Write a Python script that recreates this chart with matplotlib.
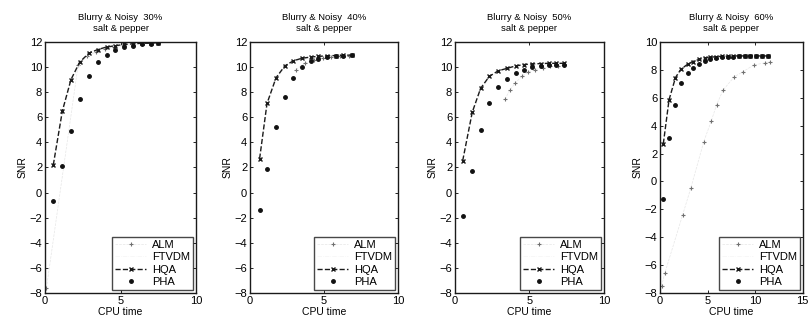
import matplotlib
matplotlib.use("Agg")
import matplotlib.pyplot as plt

plt.rcParams["font.family"] = ["Liberation Sans", "DejaVu Sans"]

# noise levels (panel titles)
noise_levels = ["30%", "40%", "50%", "60%"]
x_limits = [10, 10, 10, 15]
y_limits = [(-8, 12), (-8, 12), (-8, 12), (-8, 10)]

# 30% salt & pepper
t30 = [0.55, 1.15, 1.72, 2.3, 2.9, 3.5, 4.08, 4.65, 5.2, 5.8, 6.4, 7.0, 7.5]
hqa30 = [2.2, 6.5, 9.0, 10.4, 11.1, 11.4, 11.6, 11.7, 11.8, 11.85, 11.9, 11.9, 11.95]
pha30 = [-0.7, 2.1, 4.9, 7.45, 9.3, 10.4, 11.0, 11.4, 11.6, 11.7, 11.8, 11.85, 11.9]
alm_t30 = [0.1, 2.2, 2.8, 3.4, 4.0, 4.6, 5.2, 5.8, 6.4, 7.0]
alm30 = [-7.6, 10.2, 10.9, 11.2, 11.45, 11.6, 11.7, 11.8, 11.85, 11.9]
ftvdm30 = [2.0, 6.3, 8.8, 10.2, 11.0, 11.3, 11.55, 11.65, 11.75, 11.8, 11.85, 11.9, 11.9]

# 40% salt & pepper
t40 = [0.65, 1.15, 1.76, 2.36, 2.93, 3.5, 4.1, 4.6, 5.2, 5.8, 6.3, 6.9]
hqa40 = [2.7, 7.1, 9.15, 10.1, 10.5, 10.7, 10.8, 10.85, 10.9, 10.92, 10.95, 10.95]
pha40 = [-1.4, 1.85, 5.2, 7.65, 9.1, 10.0, 10.45, 10.65, 10.8, 10.85, 10.9, 10.95]
alm_t40 = [3.1, 3.7, 4.3, 4.9, 5.5, 6.1, 6.7]
alm40 = [9.8, 10.3, 10.55, 10.7, 10.8, 10.85, 10.9]
ftvdm40 = [2.5, 6.9, 9.0, 9.95, 10.4, 10.6, 10.75, 10.82, 10.88, 10.9, 10.92, 10.93]

# 50% salt & pepper
t50 = [0.52, 1.16, 1.72, 2.3, 2.9, 3.5, 4.1, 4.66, 5.2, 5.75, 6.3, 6.8, 7.3]
hqa50 = [2.55, 6.4, 8.3, 9.25, 9.7, 9.9, 10.1, 10.2, 10.25, 10.28, 10.3, 10.3, 10.3]
pha50 = [-1.9, 1.75, 5.0, 7.1, 8.45, 9.05, 9.5, 9.8, 10.0, 10.1, 10.15, 10.2, 10.2]
alm_t50 = [3.36, 3.7, 4.03, 4.47, 4.9, 5.4, 5.9, 6.4, 6.9, 7.3]
alm50 = [7.45, 8.2, 8.7, 9.25, 9.6, 9.8, 9.95, 10.05, 10.1, 10.15]
ftvdm50 = [2.4, 6.2, 8.1, 9.1, 9.6, 9.85, 10.05, 10.15, 10.2, 10.25, 10.27, 10.28, 10.3]

# 60% salt & pepper
t60 = [0.35, 0.95, 1.63, 2.2, 2.9, 3.45, 4.1, 4.7, 5.3, 5.9, 6.5, 7.1, 7.7,
       8.3, 8.9, 9.5, 10.1, 10.7, 11.3]
hqa60 = [2.7, 5.85, 7.45, 8.05, 8.4, 8.6, 8.75, 8.85, 8.9, 8.95, 8.97, 8.98, 9.0,
         9.0, 9.0, 9.0, 9.0, 9.0, 9.0]
pha60 = [-1.25, 3.1, 5.5, 7.05, 7.75, 8.15, 8.45, 8.65, 8.8, 8.85, 8.9, 8.92, 8.95,
         8.97, 8.98, 8.98, 9.0, 9.0, 9.0]
alm_t60 = [0.17, 0.5, 2.38, 3.23, 4.6, 5.37, 5.95, 6.63, 7.8, 8.67, 9.86, 11.0, 11.6]
alm60 = [-7.5, -6.6, -2.4, -0.5, 2.85, 4.3, 5.5, 6.55, 7.5, 7.85, 8.35, 8.5, 8.6]
ftvdm60 = [2.5, 5.6, 7.3, 7.95, 8.35, 8.55, 8.7, 8.8, 8.88, 8.92, 8.95, 8.97, 8.98,
           8.99, 9.0, 9.0, 9.0, 9.0, 9.0]

panels = [
    (t30, hqa30, pha30, alm_t30, alm30, ftvdm30),
    (t40, hqa40, pha40, alm_t40, alm40, ftvdm40),
    (t50, hqa50, pha50, alm_t50, alm50, ftvdm50),
    (t60, hqa60, pha60, alm_t60, alm60, ftvdm60),
]

lefts = [0.0556, 0.309, 0.5624, 0.8158]
# last panel a touch narrower so the "15" tick label stays on the canvas
widths = [0.1867, 0.183, 0.184, 0.1765]

fig = plt.figure(figsize=(8.09, 3.28), dpi=100)

for i, (t, hqa, pha, alm_t, alm, ftvdm) in enumerate(panels):
    ax = fig.add_axes([lefts[i], 0.107, widths[i], 0.765])

    # ALM: faint line, only the markers really show in the scan
    ax.plot(alm_t, alm, color="#e6e6e6", linestyle="--", linewidth=0.5,
            marker="+", markersize=3.2, markeredgecolor="#707070",
            markeredgewidth=0.8, label="ALM")
    ax.plot(t, ftvdm, color="#f4f4f4", linestyle="-.", linewidth=0.5,
            label="FTVDM")
    ax.plot(t, hqa, color="#1a1a1a", linestyle="--", linewidth=1.0,
            marker="x", markersize=3.2, markeredgewidth=1.0, label="HQA")
    ax.plot(t, pha, color="#111111", linestyle="none", marker="o",
            markersize=2.5, label="PHA")

    ax.set_xlim(0, x_limits[i])
    ax.set_ylim(*y_limits[i])
    ax.set_xticks(range(0, x_limits[i] + 1, 5))
    ax.set_yticks(range(y_limits[i][0], y_limits[i][1] + 1, 2))
    ax.tick_params(direction="in", top=True, right=True, length=2.5,
                   width=0.6, labelsize=8, pad=2)
    for sp in ax.spines.values():
        sp.set_linewidth(1.0)
        sp.set_color("#1a1a1a")

    ax.set_xlabel("CPU time", fontsize=7.5, labelpad=1)
    ax.set_ylabel("SNR", fontsize=7.5, labelpad=1)
    ax.set_title(f"Blurry & Noisy  {noise_levels[i]}\nsalt & pepper",
                 fontsize=6.8, pad=8, linespacing=1.25)

    leg = ax.legend(loc="lower right", fontsize=8, frameon=True,
                    fancybox=False, edgecolor="#1a1a1a", borderpad=0.3,
                    labelspacing=0.2, handlelength=2.8, handletextpad=0.5,
                    borderaxespad=0.25)
    leg.get_frame().set_linewidth(1.0)

fig.savefig("out.png", dpi=100)
